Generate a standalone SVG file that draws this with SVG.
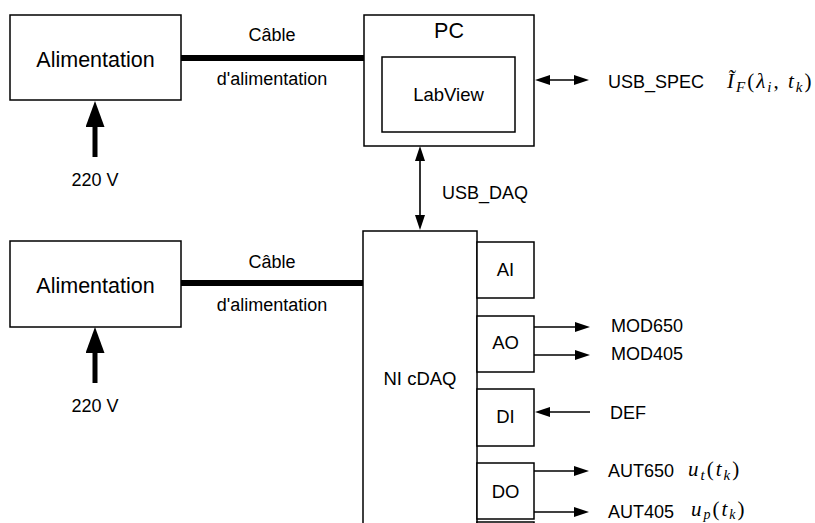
<svg xmlns="http://www.w3.org/2000/svg" width="815" height="523" viewBox="0 0 815 523">
<defs>
<marker id="ah" markerUnits="userSpaceOnUse" markerWidth="15" markerHeight="10" refX="5" refY="5" orient="auto-start-reverse"><path d="M0,0 L15,5 L0,10 z" fill="#000"/></marker>
<marker id="bigah" markerUnits="userSpaceOnUse" markerWidth="26" markerHeight="19" refX="6" refY="9.5" orient="auto"><path d="M0,0 L26,9.5 L0,19 z" fill="#000"/></marker>
</defs>
<style>
.box{fill:#fff;stroke:#000;stroke-width:1.5}
.t{font-family:"Liberation Sans",Arial,sans-serif;fill:#000}
.big{font-size:21.5px}
.lbl{font-size:18px}
.mid{text-anchor:middle}
.thin{stroke:#000;stroke-width:1.6;fill:none}
.cable{stroke:#000;stroke-width:6}
.pw{stroke:#000;stroke-width:5}
.m{font-family:"Liberation Serif","Times New Roman",serif;font-style:italic;font-size:21px;letter-spacing:2px;fill:#000}
.up{font-style:normal}
</style>
<rect width="815" height="523" fill="#fff"/>

<g id="connectors">
  <line class="cable" x1="181" y1="58" x2="364" y2="58"/>
  <line class="cable" x1="181" y1="283" x2="363" y2="283"/>
  <line class="pw" x1="95" y1="157" x2="95" y2="121" marker-end="url(#bigah)"/>
  <line class="pw" x1="95" y1="383" x2="95" y2="347" marker-end="url(#bigah)"/>
  <line class="thin" x1="545" y1="80" x2="579" y2="80" marker-start="url(#ah)" marker-end="url(#ah)"/>
  <line class="thin" x1="420" y1="156" x2="420" y2="220" marker-start="url(#ah)" marker-end="url(#ah)"/>
  <line class="thin" x1="534" y1="327" x2="580" y2="327" marker-end="url(#ah)"/>
  <line class="thin" x1="534" y1="355" x2="580" y2="355" marker-end="url(#ah)"/>
  <line class="thin" x1="590" y1="412" x2="545" y2="412" marker-end="url(#ah)"/>
  <line class="thin" x1="534" y1="471" x2="579" y2="471" marker-end="url(#ah)"/>
  <line class="thin" x1="534" y1="512" x2="579" y2="512" marker-end="url(#ah)"/>
</g>

<g id="alim1">
  <rect class="box" x="10" y="15" width="171" height="85"/>
  <text class="t big mid" x="95.5" y="67">Alimentation</text>
</g>
<g id="cable1-label">
  <text class="t lbl mid" x="272" y="41">Câble</text>
  <text class="t lbl mid" x="272" y="85">d'alimentation</text>
</g>
<g id="v220-1">
  <text class="t lbl mid" x="95" y="186">220 V</text>
</g>

<g id="pc">
  <rect class="box" x="364" y="15" width="170" height="131"/>
  <text class="t big mid" x="449" y="38">PC</text>
</g>
<g id="labview">
  <rect class="box" x="382" y="57" width="133" height="75"/>
  <text class="t lbl mid" x="448.5" y="101" style="font-size:18.5px">LabView</text>
</g>

<g id="usb-spec">
  <text class="t lbl" x="608" y="87.5">USB_SPEC</text>
  <text class="m" x="727" y="87.5">Ĩ<tspan font-size="15" dy="4">F</tspan><tspan class="up" dy="-4">(</tspan>λ<tspan font-size="15" dy="4">i</tspan><tspan class="up" dy="-4">, </tspan>t<tspan font-size="15" dy="4">k</tspan><tspan class="up" dy="-4">)</tspan></text>
</g>
<g id="usb-daq">
  <text class="t lbl" x="442" y="199">USB_DAQ</text>
</g>

<g id="alim2">
  <rect class="box" x="10" y="241" width="171" height="86"/>
  <text class="t big mid" x="95.5" y="293">Alimentation</text>
</g>
<g id="cable2-label">
  <text class="t lbl mid" x="272" y="268">Câble</text>
  <text class="t lbl mid" x="272" y="311">d'alimentation</text>
</g>
<g id="v220-2">
  <text class="t lbl mid" x="95" y="412">220 V</text>
</g>

<g id="nicdaq">
  <rect class="box" x="363" y="231" width="114" height="320"/>
  <text class="t lbl mid" x="420" y="385" style="font-size:18.5px">NI cDAQ</text>
</g>
<g id="ai">
  <rect class="box" x="477" y="242" width="57" height="56"/>
  <text class="t lbl mid" x="505.5" y="276" style="font-size:18.5px">AI</text>
</g>
<g id="ao">
  <rect class="box" x="477" y="316" width="57" height="56"/>
  <text class="t lbl mid" x="505.5" y="349" style="font-size:18.5px">AO</text>
</g>
<g id="di">
  <rect class="box" x="477" y="389" width="57" height="57"/>
  <text class="t lbl mid" x="505.5" y="423" style="font-size:18.5px">DI</text>
</g>
<g id="do">
  <rect class="box" x="477" y="463" width="57" height="56"/>
  <text class="t lbl mid" x="505.5" y="498" style="font-size:18.5px">DO</text>
</g>
<g id="next-module">
  <rect class="box" x="477" y="522" width="57" height="56"/>
</g>

<g id="signals">
  <text class="t lbl" x="611" y="332">MOD650</text>
  <text class="t lbl" x="611" y="360">MOD405</text>
  <text class="t lbl" x="610" y="419">DEF</text>
  <text class="t lbl" x="608" y="477">AUT650</text>
  <text class="m" x="688" y="476">u<tspan font-size="15" dy="3.5">t</tspan><tspan class="up" dy="-3.5">(</tspan>t<tspan font-size="15" dy="3.5">k</tspan><tspan class="up" dy="-3.5">)</tspan></text>
  <text class="t lbl" x="608" y="518">AUT405</text>
  <text class="m" x="691" y="516">u<tspan font-size="14" dy="2.5">p</tspan><tspan class="up" dy="-2.5">(</tspan>t<tspan font-size="14" dy="2.5">k</tspan><tspan class="up" dy="-2.5">)</tspan></text>
</g>
</svg>
